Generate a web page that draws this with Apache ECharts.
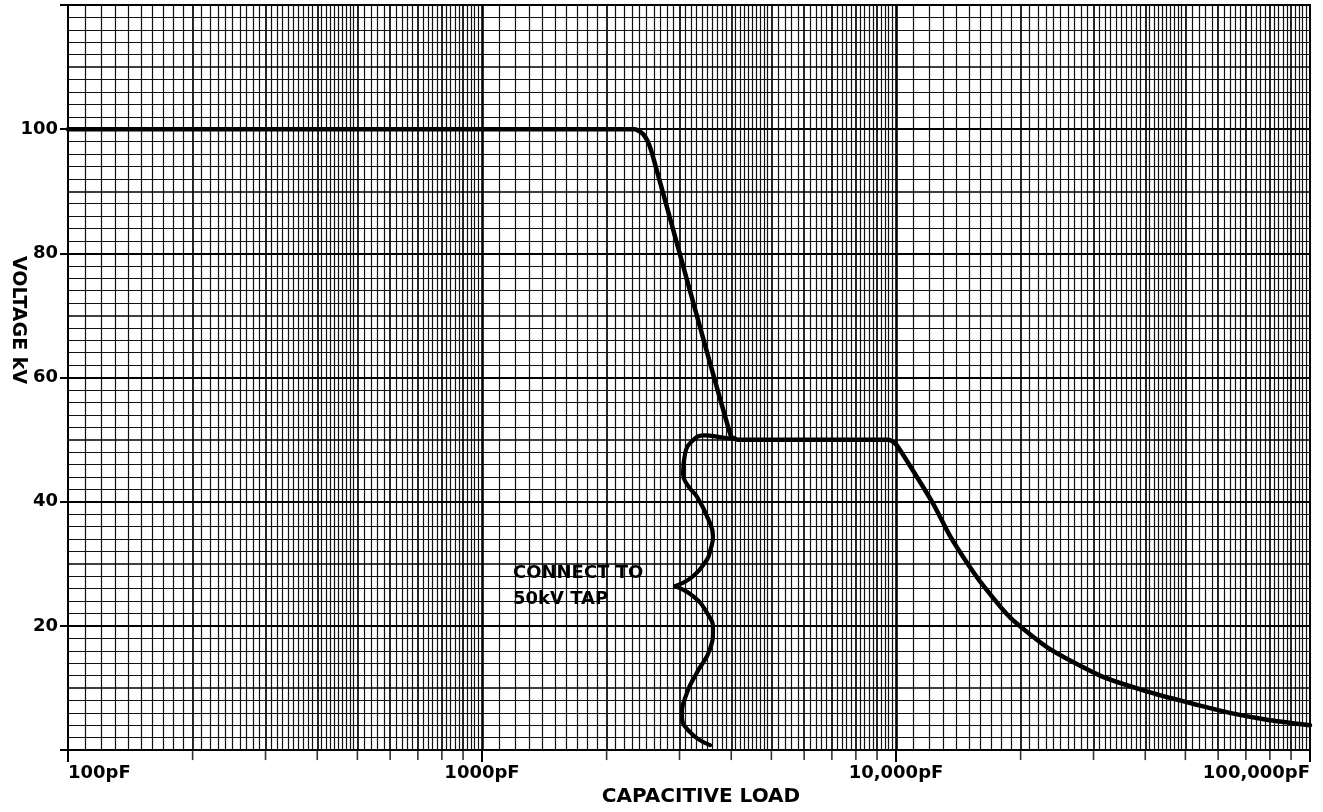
<!DOCTYPE html>
<html>
<head>
<meta charset="utf-8">
<script src="https://cdn.jsdelivr.net/npm/echarts@6/dist/echarts.min.js"></script>
<style>
html,body{margin:0;padding:0;background:#fff;}
#chart{width:1323px;height:812px;}
</style>
</head>
<body>
<div id="chart"></div>
<script>
// ---- data ----
const X_TICK_LABELS = {100: '100pF', 1000: '1000pF', 10000: '10,000pF', 100000: '100,000pF'};
const Y_TICK_VALUES = [20, 40, 60, 80, 100];
// main rating curve: [capacitance pF, voltage kV]
const MAIN_CURVE = [
  [100, 100], [2340, 100], [2450, 99.2], [2530, 97.6], [2590, 95.5], [3990, 50.6],
  [4150, 50], [9600, 50], [9950, 49.4], [10300, 48.0], [12290, 39.7], [13500, 34.5],
  [14800, 30.3], [16200, 26.6], [18900, 21.3], [23500, 16.3], [31100, 12.0],
  [41100, 9.3], [54000, 7.2], [64000, 6.0], [78700, 4.9], [100000, 4.0]
];
// brace "connect to 50kV tap"
const BRACE_UPPER = [
  [4050, 50.1], [3750, 50.4], [3450, 50.7], [3234, 49.9], [3093, 47.7], [3059, 44.5], [3150, 42.5],
  [3306, 40.8], [3520, 37.2], [3614, 34.4], [3560, 32.2], [3496, 30.7], [3234, 28], [2925, 26.4]
];
const BRACE_LOWER = [
  [2925, 26.4], [3234, 24.8], [3496, 22.1], [3614, 19.5], [3555, 16.3], [3306, 12.5],
  [3130, 9.3], [3040, 5.6], [3180, 2.9], [3555, 0.8]
];
const NOTE_ANCHOR = [1188, 26.4];
const NOTE_TEXT = 'CONNECT TO\n50kV TAP';
const DECADES = [100, 1000, 10000];

// ---- graph-paper rulings (decoration) ----
const FONT = 'DejaVu Sans';
const FINE = {color: '#111', width: 1.2, type: 'solid'};
const MID = {color: '#000', width: 1.7, type: 'solid'};
const vLines = [];
DECADES.forEach(d => {
  for (let k = 11; k < 50; k++) {
    if (k % 10 === 0) continue;
    vLines.push({xAxis: d * k / 10, lineStyle: FINE});
  }
  for (let k = 52; k < 100; k += 2) {
    if (k % 10 === 0) continue;
    vLines.push({xAxis: d * k / 10, lineStyle: FINE});
  }
  for (let m = 2; m <= 9; m++) {
    vLines.push({xAxis: d * m, lineStyle: MID});
  }
  if (d > 100) vLines.push({xAxis: d, lineStyle: {color: '#000', width: 2.6, type: 'solid'}});
});
const hLines = [];
for (let v = 2; v < 120; v += 2) {
  let ls = FINE;
  if (v % 20 === 0) ls = {color: '#000', width: 2.2, type: 'solid'};
  else if (v % 10 === 0) ls = MID;
  hLines.push({yAxis: v, lineStyle: ls});
}
const minorTicks = [];
DECADES.forEach(d => { for (let m = 2; m <= 9; m++) minorTicks.push([d * m, 0]); });

const chart = echarts.init(document.getElementById('chart'));
chart.setOption({
  animation: false,
  backgroundColor: '#fff',
  grid: {left: 68, right: 13, top: 5, bottom: 57, show: true, borderColor: '#000', borderWidth: 2, backgroundColor: '#fff'},
  xAxis: {
    type: 'log', logBase: 10, min: 100, max: 100000,
    name: 'CAPACITIVE LOAD', nameLocation: 'middle', nameGap: 27,
    nameTextStyle: {fontFamily: FONT, fontWeight: 'bold', fontSize: 20, color: '#000', padding: [0, 0, 0, 24]},
    axisLine: {show: true, lineStyle: {color: '#000', width: 2}},
    axisTick: {show: true, length: 12, lineStyle: {color: '#000', width: 2}},
    minorTick: {show: false},
    splitLine: {show: false},
    axisLabel: {
      margin: 14, fontFamily: FONT, fontWeight: 'bold', fontSize: 18, color: '#000',
      alignMinLabel: 'left', alignMaxLabel: 'right', showMinLabel: true, showMaxLabel: true,
      formatter: v => X_TICK_LABELS[Math.round(v)] || ''
    }
  },
  yAxis: {
    type: 'value', min: 0, max: 120, interval: 20,
    axisLine: {show: true, lineStyle: {color: '#000', width: 2}},
    axisTick: {show: true, length: 8, lineStyle: {color: '#000', width: 2}},
    splitLine: {show: false},
    axisLabel: {
      margin: 10, fontFamily: FONT, fontWeight: 'bold', fontSize: 18, color: '#000',
      formatter: v => Y_TICK_VALUES.indexOf(v) >= 0 ? String(v) : ''
    }
  },
  graphic: [{
    type: 'text', x: 18, y: 320, rotation: -Math.PI / 2,
    style: {text: 'VOLTAGE kV', fill: '#000', font: 'bold 19px "DejaVu Sans"', textAlign: 'center', textVerticalAlign: 'middle'}
  }],
  series: [
    {
      name: 'paper', type: 'line', data: [], silent: true, z: 1,
      markLine: {silent: true, symbol: ['none', 'none'], label: {show: false}, animation: false,
        lineStyle: {type: 'solid'}, emphasis: {disabled: true},
        data: vLines.concat(hLines)}
    },
    {
      name: 'ticks', type: 'scatter', data: minorTicks, clip: false, silent: true, z: 3,
      symbol: 'rect', symbolSize: [1.6, 9], symbolOffset: [0, 5.5],
      itemStyle: {color: '#000'}
    },
    {
      name: 'rating', type: 'line', data: MAIN_CURVE, showSymbol: false, smooth: 0.2, z: 5,
      lineStyle: {color: '#000', width: 4.5, join: 'round', cap: 'round'},
      markPoint: {
        silent: true, symbol: 'circle', symbolSize: 0,
        data: [{coord: NOTE_ANCHOR, value: NOTE_TEXT}],
        label: {show: true, position: 'right', distance: 0, formatter: NOTE_TEXT, align: 'left',
          fontFamily: FONT, fontWeight: 'bold', fontSize: 18, lineHeight: 26, color: '#000',
          textBorderWidth: 0, opacity: 1}
      }
    },
    {
      name: 'braceUpper', type: 'line', data: BRACE_UPPER, showSymbol: false, smooth: 0.5, z: 5,
      lineStyle: {color: '#000', width: 4.2, cap: 'round'}
    },
    {
      name: 'braceLower', type: 'line', data: BRACE_LOWER, showSymbol: false, smooth: 0.5, z: 5,
      lineStyle: {color: '#000', width: 4.2, cap: 'round'}
    }
  ]
});
</script>
</body>
</html>
